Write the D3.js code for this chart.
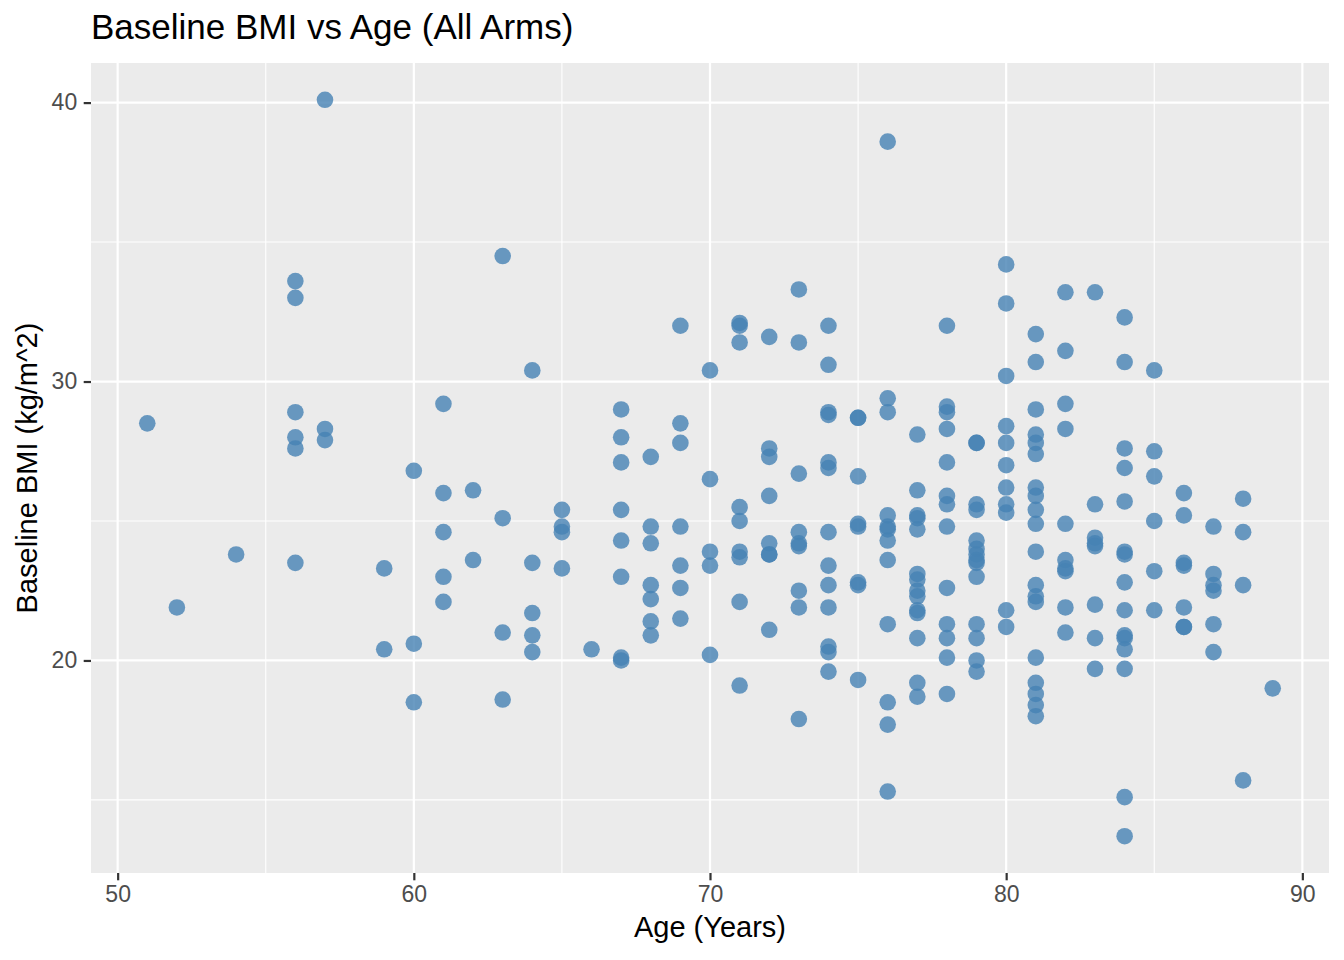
<!DOCTYPE html>
<html>
<head>
<meta charset="utf-8">
<script src="https://cdn.jsdelivr.net/npm/d3@7"></script>
<style>
  body { margin: 0; background: #fff; }
  svg { display: block; font-family: "Liberation Sans", Arial, sans-serif; }
</style>
</head>
<body>
<svg id="svg" width="1344" height="960"></svg>
<script>
// ages present in the data, and the baseline BMI readings at each age
const ages = [51, 52, 54, 56, 57, 59, 60, 61, 62, 63, 64, 65, 66, 67, 68, 69, 70,
              71, 72, 73, 74, 75, 76, 77, 78, 79, 80, 81, 82, 83, 84, 85, 86, 87, 88, 89]

const bmiByAge = [
  [28.5],
  [21.9],
  [23.8],
  [33.6, 33.0, 28.9, 28.0, 27.6, 23.5],
  [40.1, 28.3, 27.9],
  [23.3, 20.4],
  [26.8, 20.6, 18.5],
  [29.2, 26.0, 24.6, 23.0, 22.1],
  [26.1, 23.6],
  [34.5, 25.1, 21.0, 18.6],
  [30.4, 23.5, 21.7, 20.9, 20.3],
  [25.4, 24.8, 24.6, 23.3],
  [20.4],
  [29.0, 28.0, 27.1, 25.4, 24.3, 23.0, 20.1, 20.0],
  [27.3, 24.8, 24.2, 22.7, 22.2, 21.4, 20.9],
  [32.0, 28.5, 27.8, 24.8, 23.4, 22.6, 21.5],
  [30.4, 26.5, 23.9, 23.4, 20.2],
  [32.1, 32.0, 31.4, 25.5, 25.0, 23.9, 23.7, 22.1, 19.1],
  [31.6, 27.6, 27.3, 25.9, 24.2, 23.8, 23.8, 21.1],
  [33.3, 31.4, 26.7, 24.6, 24.2, 24.1, 22.5, 21.9, 17.9],
  [32.0, 30.6, 28.9, 28.8, 27.1, 26.9, 24.6, 23.4, 22.7, 21.9, 20.5, 20.3, 19.6],
  [28.7, 28.7, 26.6, 24.9, 24.8, 22.8, 22.7, 19.3],
  [38.6, 29.4, 28.9, 25.2, 24.8, 24.7, 24.3, 23.6, 21.3, 18.5, 17.7, 15.3],
  [28.1, 26.1, 25.2, 25.1, 24.7, 23.1, 22.9, 22.5, 22.3, 21.8, 21.7, 20.8, 19.2, 18.7],
  [32.0, 29.1, 28.9, 28.3, 27.1, 25.9, 25.6, 24.8, 22.6, 21.3, 20.8, 20.1, 18.8],
  [27.8, 27.8, 25.6, 25.4, 24.3, 24.0, 23.8, 23.6, 23.5, 23.0, 21.3, 20.8, 20.0, 19.6],
  [34.2, 32.8, 30.2, 28.4, 27.8, 27.0, 26.2, 25.6, 25.3, 21.8, 21.2],
  [31.7, 30.7, 29.0, 28.1, 27.8, 27.4, 26.2, 25.9, 25.4, 24.9, 23.9, 22.7, 22.3, 22.1, 20.1, 19.2, 18.8, 18.4, 18.0],
  [33.2, 31.1, 29.2, 28.3, 24.9, 23.6, 23.3, 23.2, 21.9, 21.0],
  [33.2, 25.6, 24.4, 24.2, 24.1, 22.0, 20.8, 19.7],
  [32.3, 30.7, 27.6, 26.9, 25.7, 23.9, 23.8, 22.8, 21.8, 20.9, 20.8, 20.4, 19.7, 15.1, 13.7],
  [30.4, 27.5, 26.6, 25.0, 23.2, 21.8],
  [26.0, 25.2, 23.5, 23.4, 21.9, 21.2, 21.2],
  [24.8, 23.1, 22.7, 22.5, 21.3, 20.3],
  [25.8, 24.6, 22.7, 15.7],
  [19.0]
]

const xTicks = [50, 60, 70, 80, 90]
const xMinor = [55, 65, 75, 85]
const yTicks = [20, 30, 40]
const yMinor = [15, 25, 35]

const points = ages.flatMap((a, i) => bmiByAge[i].map(b => ({age: a, bmi: b})))

const svg = d3.select("#svg")
const margin = {left: 91, right: 15, top: 63, bottom: 87}
const width = 1344, height = 960

// ggplot-style 5% expansion of the data range
function expand([lo, hi]) {
  const pad = (hi - lo) * 0.05
  return [lo - pad, hi + pad]
}

const x = d3.scaleLinear()
    .domain(expand(d3.extent(points, d => d.age)))
    .range([margin.left, width - margin.right])
const y = d3.scaleLinear()
    .domain(expand(d3.extent(points, d => d.bmi)))
    .range([height - margin.bottom, margin.top])

// panel
svg.append("rect")
    .attr("x", margin.left)
    .attr("y", margin.top)
    .attr("width", width - margin.left - margin.right)
    .attr("height", height - margin.top - margin.bottom)
    .attr("fill", "#EBEBEB")

const grid = svg.append("g").attr("stroke", "#fff")

grid.selectAll("line.xminor")
  .data(xMinor)
  .join("line")
    .attr("x1", d => x(d)).attr("x2", d => x(d))
    .attr("y1", margin.top).attr("y2", height - margin.bottom)
    .attr("stroke-width", 1.1)
grid.selectAll("line.yminor")
  .data(yMinor)
  .join("line")
    .attr("y1", d => y(d)).attr("y2", d => y(d))
    .attr("x1", margin.left).attr("x2", width - margin.right)
    .attr("stroke-width", 1.1)
grid.selectAll("line.xmajor")
  .data(xTicks)
  .join("line")
    .attr("x1", d => x(d)).attr("x2", d => x(d))
    .attr("y1", margin.top).attr("y2", height - margin.bottom)
    .attr("stroke-width", 2.2)
grid.selectAll("line.ymajor")
  .data(yTicks)
  .join("line")
    .attr("y1", d => y(d)).attr("y2", d => y(d))
    .attr("x1", margin.left).attr("x2", width - margin.right)
    .attr("stroke-width", 2.2)

// points
svg.append("g")
  .selectAll("circle")
  .data(points)
  .join("circle")
    .attr("cx", d => x(d.age))
    .attr("cy", d => y(d.bmi))
    .attr("r", 8.3)
    .attr("fill", "steelblue")
    .attr("fill-opacity", 0.8)

// axes
const xAxis = svg.append("g")
    .attr("transform", `translate(0,${height - margin.bottom})`)
    .call(d3.axisBottom(x).tickValues(xTicks).tickSize(7.3).tickPadding(5.5))
const yAxis = svg.append("g")
    .attr("transform", `translate(${margin.left},0)`)
    .call(d3.axisLeft(y).tickValues(yTicks).tickSize(7.3).tickPadding(6.5))

for (const ax of [xAxis, yAxis]) {
  ax.select(".domain").remove()
  ax.selectAll(".tick line").attr("stroke", "#333333").attr("stroke-width", 2.2)
  ax.selectAll(".tick text")
      .attr("fill", "#4D4D4D")
      .style("font-size", "23px")
      .style("font-family", "Liberation Sans, Arial, sans-serif")
}

// labels
svg.append("text")
    .attr("x", margin.left)
    .attr("y", 39)
    .style("font-size", "35px")
    .attr("fill", "#000")
    .text("Baseline BMI vs Age (All Arms)")

svg.append("text")
    .attr("x", (margin.left + width - margin.right) / 2)
    .attr("y", 937)
    .attr("text-anchor", "middle")
    .style("font-size", "29px")
    .text("Age (Years)")

svg.append("text")
    .attr("transform", `translate(37,${(margin.top + height - margin.bottom) / 2}) rotate(-90)`)
    .attr("text-anchor", "middle")
    .style("font-size", "29px")
    .text("Baseline BMI (kg/m^2)")
</script>
</body>
</html>
